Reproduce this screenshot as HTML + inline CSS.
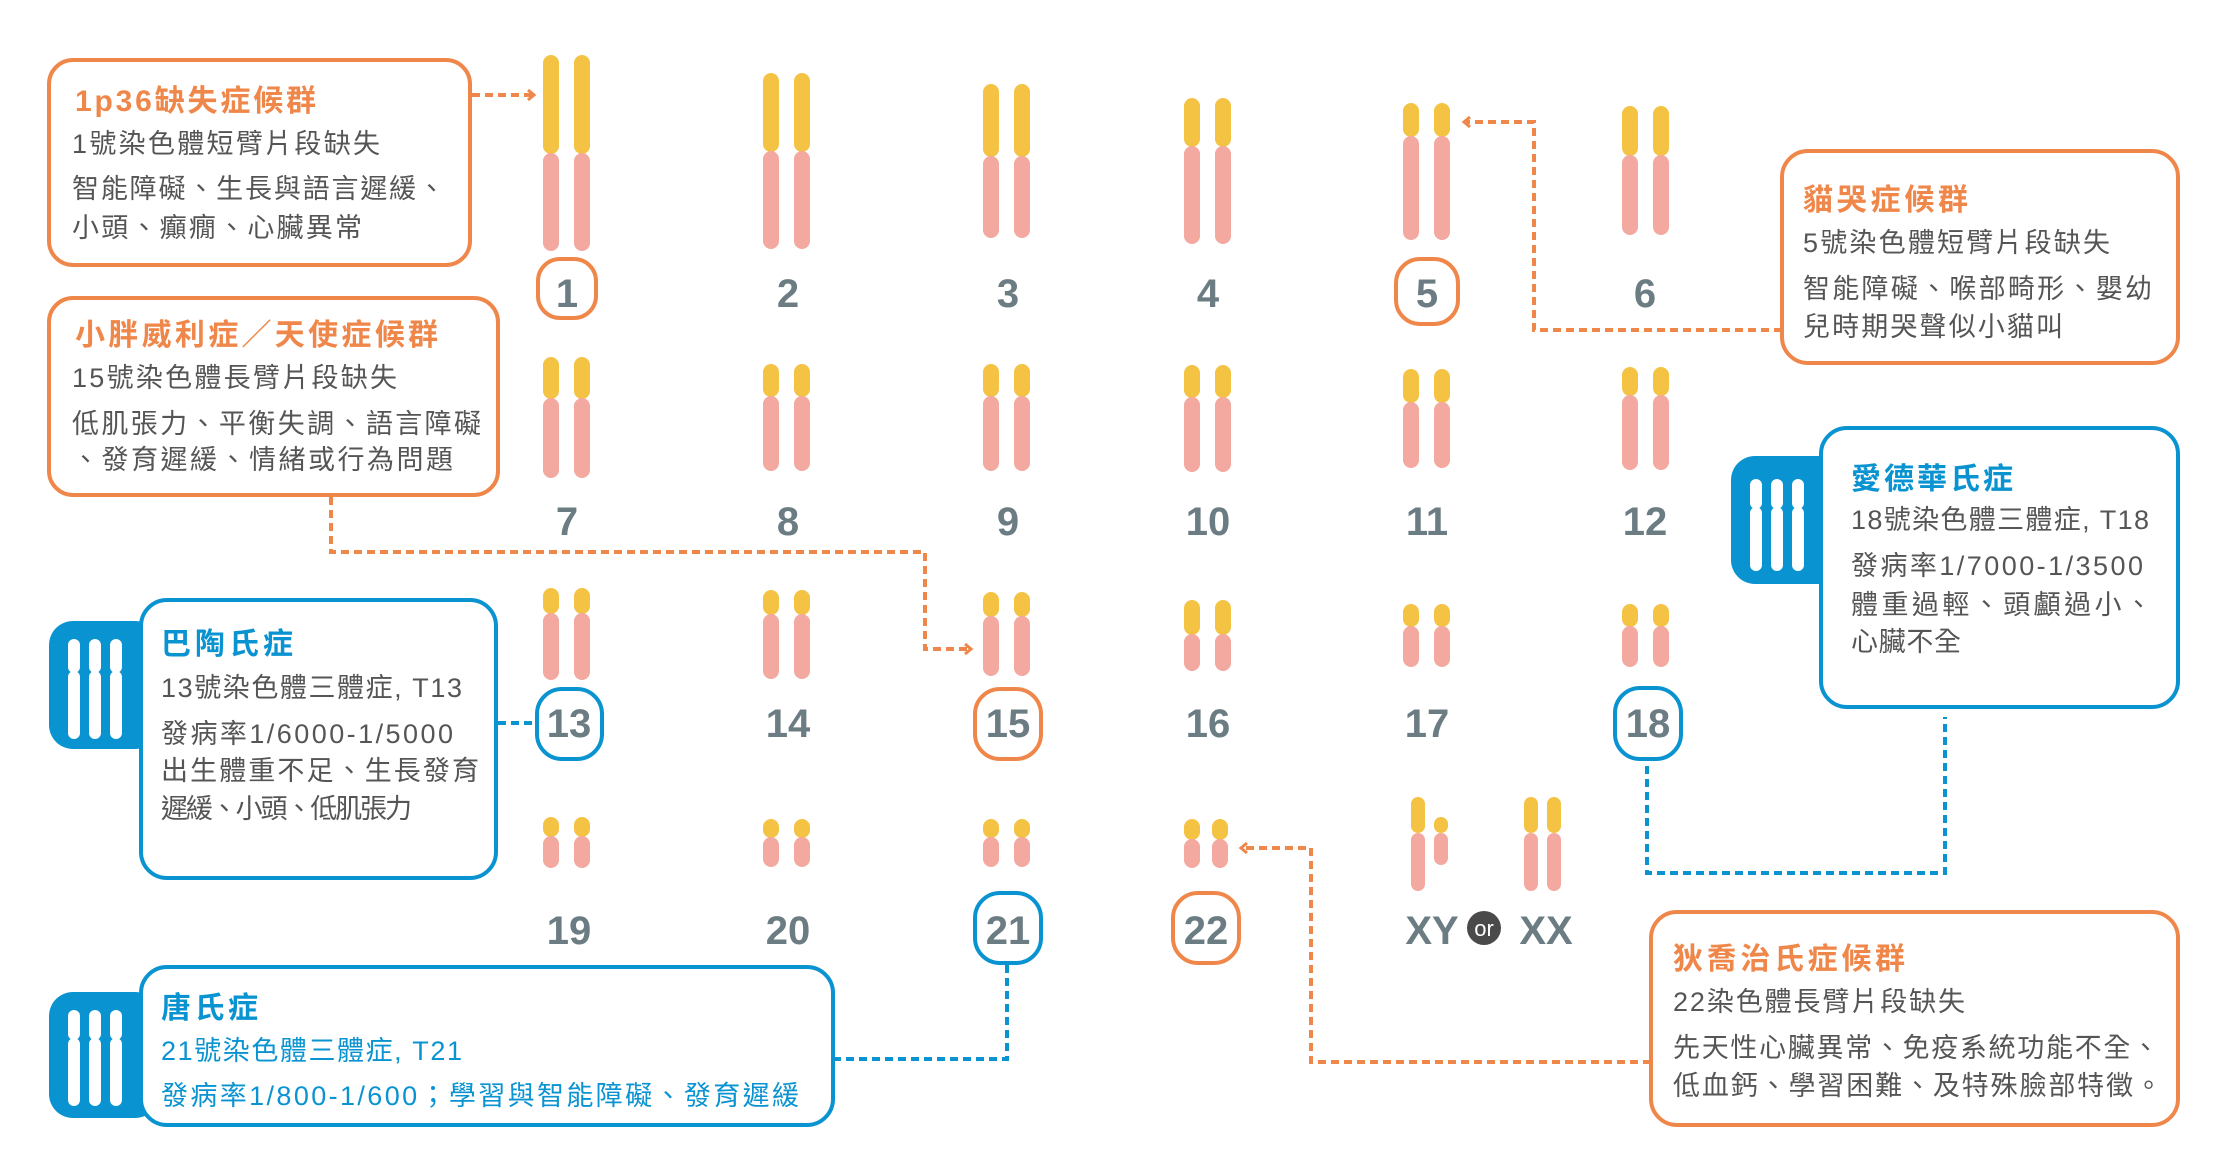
<!DOCTYPE html>
<html><head><meta charset="utf-8">
<style>
html,body{margin:0;padding:0;background:#fff;}
svg{display:block;}
text{font-family:"Liberation Sans","Noto Sans CJK TC","Noto Sans CJK SC",sans-serif;}
.t{font-size:30px;font-weight:bold;}
.b{font-size:27px;fill:#555;}
.n{font-size:40px;fill:#6b7c83;text-anchor:middle;font-weight:bold;}
</style></head><body>
<svg width="2238" height="1168" viewBox="0 0 2238 1168" xmlns="http://www.w3.org/2000/svg">
<defs>
<marker id="ao" markerWidth="10" markerHeight="12" refX="6" refY="6" orient="auto" markerUnits="userSpaceOnUse">
<path d="M1,1 L7,6 L1,11" fill="none" stroke="#f0874a" stroke-width="3"/>
</marker>
</defs>
<g stroke-linecap="round" stroke-width="16" fill="none">
<g><line x1="551" y1="63" x2="551" y2="146" stroke="#f5c343"/><line x1="582" y1="63" x2="582" y2="146" stroke="#f5c343"/><line x1="551" y1="161" x2="551" y2="243" stroke="#f3a9a0"/><line x1="582" y1="161" x2="582" y2="243" stroke="#f3a9a0"/></g>
<g><line x1="771" y1="81" x2="771" y2="144" stroke="#f5c343"/><line x1="802" y1="81" x2="802" y2="144" stroke="#f5c343"/><line x1="771" y1="159" x2="771" y2="241" stroke="#f3a9a0"/><line x1="802" y1="159" x2="802" y2="241" stroke="#f3a9a0"/></g>
<g><line x1="991" y1="92" x2="991" y2="149" stroke="#f5c343"/><line x1="1022" y1="92" x2="1022" y2="149" stroke="#f5c343"/><line x1="991" y1="164" x2="991" y2="230" stroke="#f3a9a0"/><line x1="1022" y1="164" x2="1022" y2="230" stroke="#f3a9a0"/></g>
<g><line x1="1192" y1="106" x2="1192" y2="139" stroke="#f5c343"/><line x1="1223" y1="106" x2="1223" y2="139" stroke="#f5c343"/><line x1="1192" y1="154" x2="1192" y2="236" stroke="#f3a9a0"/><line x1="1223" y1="154" x2="1223" y2="236" stroke="#f3a9a0"/></g>
<g><line x1="1411" y1="111" x2="1411" y2="129" stroke="#f5c343"/><line x1="1442" y1="111" x2="1442" y2="129" stroke="#f5c343"/><line x1="1411" y1="144" x2="1411" y2="232" stroke="#f3a9a0"/><line x1="1442" y1="144" x2="1442" y2="232" stroke="#f3a9a0"/></g>
<g><line x1="1630" y1="114" x2="1630" y2="148" stroke="#f5c343"/><line x1="1661" y1="114" x2="1661" y2="148" stroke="#f5c343"/><line x1="1630" y1="163" x2="1630" y2="227" stroke="#f3a9a0"/><line x1="1661" y1="163" x2="1661" y2="227" stroke="#f3a9a0"/></g>
<g><line x1="551" y1="365" x2="551" y2="391" stroke="#f5c343"/><line x1="582" y1="365" x2="582" y2="391" stroke="#f5c343"/><line x1="551" y1="406" x2="551" y2="470" stroke="#f3a9a0"/><line x1="582" y1="406" x2="582" y2="470" stroke="#f3a9a0"/></g>
<g><line x1="771" y1="372" x2="771" y2="389" stroke="#f5c343"/><line x1="802" y1="372" x2="802" y2="389" stroke="#f5c343"/><line x1="771" y1="404" x2="771" y2="463" stroke="#f3a9a0"/><line x1="802" y1="404" x2="802" y2="463" stroke="#f3a9a0"/></g>
<g><line x1="991" y1="372" x2="991" y2="389" stroke="#f5c343"/><line x1="1022" y1="372" x2="1022" y2="389" stroke="#f5c343"/><line x1="991" y1="404" x2="991" y2="463" stroke="#f3a9a0"/><line x1="1022" y1="404" x2="1022" y2="463" stroke="#f3a9a0"/></g>
<g><line x1="1192" y1="373" x2="1192" y2="390" stroke="#f5c343"/><line x1="1223" y1="373" x2="1223" y2="390" stroke="#f5c343"/><line x1="1192" y1="405" x2="1192" y2="464" stroke="#f3a9a0"/><line x1="1223" y1="405" x2="1223" y2="464" stroke="#f3a9a0"/></g>
<g><line x1="1411" y1="377" x2="1411" y2="395" stroke="#f5c343"/><line x1="1442" y1="377" x2="1442" y2="395" stroke="#f5c343"/><line x1="1411" y1="410" x2="1411" y2="460" stroke="#f3a9a0"/><line x1="1442" y1="410" x2="1442" y2="460" stroke="#f3a9a0"/></g>
<g><line x1="1630" y1="375" x2="1630" y2="388" stroke="#f5c343"/><line x1="1661" y1="375" x2="1661" y2="388" stroke="#f5c343"/><line x1="1630" y1="403" x2="1630" y2="462" stroke="#f3a9a0"/><line x1="1661" y1="403" x2="1661" y2="462" stroke="#f3a9a0"/></g>
<g><line x1="551" y1="596" x2="551" y2="606" stroke="#f5c343"/><line x1="582" y1="596" x2="582" y2="606" stroke="#f5c343"/><line x1="551" y1="621" x2="551" y2="672" stroke="#f3a9a0"/><line x1="582" y1="621" x2="582" y2="672" stroke="#f3a9a0"/></g>
<g><line x1="771" y1="598" x2="771" y2="607" stroke="#f5c343"/><line x1="802" y1="598" x2="802" y2="607" stroke="#f5c343"/><line x1="771" y1="622" x2="771" y2="671" stroke="#f3a9a0"/><line x1="802" y1="622" x2="802" y2="671" stroke="#f3a9a0"/></g>
<g><line x1="991" y1="600" x2="991" y2="609" stroke="#f5c343"/><line x1="1022" y1="600" x2="1022" y2="609" stroke="#f5c343"/><line x1="991" y1="624" x2="991" y2="668" stroke="#f3a9a0"/><line x1="1022" y1="624" x2="1022" y2="668" stroke="#f3a9a0"/></g>
<g><line x1="1192" y1="608" x2="1192" y2="627" stroke="#f5c343"/><line x1="1223" y1="608" x2="1223" y2="627" stroke="#f5c343"/><line x1="1192" y1="642" x2="1192" y2="663" stroke="#f3a9a0"/><line x1="1223" y1="642" x2="1223" y2="663" stroke="#f3a9a0"/></g>
<g><line x1="1411" y1="612" x2="1411" y2="619" stroke="#f5c343"/><line x1="1442" y1="612" x2="1442" y2="619" stroke="#f5c343"/><line x1="1411" y1="634" x2="1411" y2="659" stroke="#f3a9a0"/><line x1="1442" y1="634" x2="1442" y2="659" stroke="#f3a9a0"/></g>
<g><line x1="1630" y1="612" x2="1630" y2="619" stroke="#f5c343"/><line x1="1661" y1="612" x2="1661" y2="619" stroke="#f5c343"/><line x1="1630" y1="634" x2="1630" y2="659" stroke="#f3a9a0"/><line x1="1661" y1="634" x2="1661" y2="659" stroke="#f3a9a0"/></g>
<g><line x1="551" y1="825" x2="551" y2="829" stroke="#f5c343"/><line x1="582" y1="825" x2="582" y2="829" stroke="#f5c343"/><line x1="551" y1="844" x2="551" y2="860" stroke="#f3a9a0"/><line x1="582" y1="844" x2="582" y2="860" stroke="#f3a9a0"/></g>
<g><line x1="771" y1="827" x2="771" y2="830" stroke="#f5c343"/><line x1="802" y1="827" x2="802" y2="830" stroke="#f5c343"/><line x1="771" y1="845" x2="771" y2="859" stroke="#f3a9a0"/><line x1="802" y1="845" x2="802" y2="859" stroke="#f3a9a0"/></g>
<g><line x1="991" y1="827" x2="991" y2="830" stroke="#f5c343"/><line x1="1022" y1="827" x2="1022" y2="830" stroke="#f5c343"/><line x1="991" y1="845" x2="991" y2="859" stroke="#f3a9a0"/><line x1="1022" y1="845" x2="1022" y2="859" stroke="#f3a9a0"/></g>
<g><line x1="1192" y1="827" x2="1192" y2="832" stroke="#f5c343"/><line x1="1220" y1="827" x2="1220" y2="832" stroke="#f5c343"/><line x1="1192" y1="847" x2="1192" y2="860" stroke="#f3a9a0"/><line x1="1220" y1="847" x2="1220" y2="860" stroke="#f3a9a0"/></g>
<g stroke-width="14"><line x1="1418" y1="804" x2="1418" y2="826" stroke="#f5c343"/><line x1="1418" y1="840" x2="1418" y2="884" stroke="#f3a9a0"/>
<line x1="1441" y1="824" x2="1441" y2="826" stroke="#f5c343"/><line x1="1441" y1="840" x2="1441" y2="858" stroke="#f3a9a0"/>
<line x1="1531" y1="804" x2="1531" y2="826" stroke="#f5c343"/><line x1="1531" y1="840" x2="1531" y2="884" stroke="#f3a9a0"/>
<line x1="1554" y1="804" x2="1554" y2="826" stroke="#f5c343"/><line x1="1554" y1="840" x2="1554" y2="884" stroke="#f3a9a0"/></g>
</g>

<g fill="none" stroke-width="4">
<rect x="538" y="259" width="58" height="59" rx="22" stroke="#f0874a"/>
<rect x="1396" y="259" width="62" height="65" rx="24" stroke="#f0874a"/>
<rect x="537" y="689" width="65" height="70" rx="25" stroke="#0a93d1"/>
<rect x="975" y="689" width="66" height="70" rx="25" stroke="#f0874a"/>
<rect x="1615" y="688" width="66" height="71" rx="25" stroke="#0a93d1"/>
<rect x="975" y="893" width="66" height="70" rx="25" stroke="#0a93d1"/>
<rect x="1173" y="893" width="66" height="70" rx="25" stroke="#f0874a"/>
</g>
<g class="n">
<text x="567" y="307">1</text><text x="788" y="307">2</text><text x="1008" y="307">3</text><text x="1208" y="307">4</text><text x="1427" y="307">5</text><text x="1645" y="307">6</text>
<text x="567" y="535">7</text><text x="788" y="535">8</text><text x="1008" y="535">9</text><text x="1208" y="535">10</text><text x="1427" y="535">11</text><text x="1645" y="535">12</text>
<text x="569" y="737">13</text><text x="788" y="737">14</text><text x="1008" y="737">15</text><text x="1208" y="737">16</text><text x="1427" y="737">17</text><text x="1648" y="737">18</text>
<text x="569" y="944">19</text><text x="788" y="944">20</text><text x="1008" y="944">21</text><text x="1206" y="944">22</text>
<text x="1432" y="944">XY</text><text x="1546" y="944">XX</text>
</g>
<circle cx="1484" cy="928" r="17" fill="#4a4a4a"/>
<text x="1484" y="936" font-size="22" fill="#fff" text-anchor="middle">or</text>

<g fill="none" stroke-width="4" stroke-dasharray="8 5">
<polyline points="472,95 533,95" stroke="#f0874a" marker-end="url(#ao)"/>
<polyline points="1782,330 1534,330 1534,122 1465,122" stroke="#f0874a" marker-end="url(#ao)"/>
<polyline points="331,497 331,552 925,552 925,649 970,649" stroke="#f0874a" marker-end="url(#ao)"/>
<polyline points="1651,1062 1311,1062 1311,848 1242,848" stroke="#f0874a" marker-end="url(#ao)"/>
<polyline points="498,723 536,723" stroke="#0a93d1"/>
<polyline points="1007,965 1007,1059 835,1059" stroke="#0a93d1"/>
<polyline points="1647,766 1647,873 1945,873 1945,717" stroke="#0a93d1"/>
</g>

<g fill="#fff" stroke-width="4">
<rect x="49" y="60" width="421" height="205" rx="24" stroke="#f0874a"/>
<rect x="49" y="298" width="449" height="197" rx="24" stroke="#f0874a"/>
<rect x="1782" y="151" width="396" height="212" rx="26" stroke="#f0874a"/>
<rect x="1651" y="912" width="527" height="213" rx="26" stroke="#f0874a"/>
</g>
<g fill="#0a93d1">
<rect x="49" y="621" width="110" height="128" rx="24"/>
<rect x="49" y="992" width="110" height="126" rx="24"/>
<rect x="1731" y="456" width="110" height="128" rx="24"/>
</g>
<g fill="#fff" stroke-width="4">
<rect x="141" y="600" width="355" height="278" rx="26" stroke="#0a93d1"/>
<rect x="141" y="967" width="692" height="158" rx="26" stroke="#0a93d1"/>
<rect x="1821" y="428" width="357" height="279" rx="26" stroke="#0a93d1"/>
</g>
<g stroke="#fff" stroke-width="12" stroke-linecap="round">
<line x1="74" y1="645" x2="74" y2="667"/><line x1="74" y1="677" x2="74" y2="733"/>
<line x1="95" y1="645" x2="95" y2="667"/><line x1="95" y1="677" x2="95" y2="733"/>
<line x1="116" y1="645" x2="116" y2="667"/><line x1="116" y1="677" x2="116" y2="733"/>
<line x1="74" y1="1016" x2="74" y2="1034"/><line x1="74" y1="1044" x2="74" y2="1100"/>
<line x1="95" y1="1016" x2="95" y2="1034"/><line x1="95" y1="1044" x2="95" y2="1100"/>
<line x1="116" y1="1016" x2="116" y2="1034"/><line x1="116" y1="1044" x2="116" y2="1100"/>
<line x1="1756" y1="485" x2="1756" y2="503"/><line x1="1756" y1="513" x2="1756" y2="565"/>
<line x1="1777" y1="485" x2="1777" y2="503"/><line x1="1777" y1="513" x2="1777" y2="565"/>
<line x1="1798" y1="485" x2="1798" y2="503"/><line x1="1798" y1="513" x2="1798" y2="565"/>
</g>

<g>
<text class="t" fill="#f0874a" x="75" y="111" textLength="241">1p36缺失症候群</text>
<text class="b" x="72" y="153" textLength="308">1號染色體短臂片段缺失</text>
<text class="b" x="72" y="198" textLength="373">智能障礙、生長與語言遲緩、</text>
<text class="b" x="72" y="237" textLength="290">小頭、癲癇、心臟異常</text>

<text class="t" fill="#f0874a" x="75" y="345" textLength="363">小胖威利症／天使症候群</text>
<text class="b" x="72" y="387" textLength="325">15號染色體長臂片段缺失</text>
<text class="b" x="72" y="433" textLength="409">低肌張力、平衡失調、語言障礙</text>
<text class="b" x="72" y="469" textLength="381">、發育遲緩、情緒或行為問題</text>

<text class="t" fill="#0a93d1" x="161" y="654" textLength="132">巴陶氏症</text>
<text class="b" x="161" y="697" textLength="301">13號染色體三體症, T13</text>
<text class="b" x="161" y="743" textLength="292">發病率1/6000-1/5000</text>
<text class="b" x="161" y="780" textLength="318">出生體重不足、生長發育</text>
<text class="b" x="161" y="818" textLength="251">遲緩、小頭、低肌張力</text>

<text class="t" fill="#0a93d1" x="161" y="1018" textLength="97">唐氏症</text>
<text class="b" style="fill:#0a93d1" x="161" y="1060" textLength="301">21號染色體三體症, T21</text>
<text class="b" style="fill:#0a93d1" x="161" y="1105" textLength="638">發病率1/800-1/600；學習與智能障礙、發育遲緩</text>

<text class="t" fill="#f0874a" x="1803" y="210" textLength="165">貓哭症候群</text>
<text class="b" x="1803" y="252" textLength="307">5號染色體短臂片段缺失</text>
<text class="b" x="1803" y="298" textLength="349">智能障礙、喉部畸形、嬰幼</text>
<text class="b" x="1803" y="336" textLength="260">兒時期哭聲似小貓叫</text>

<text class="t" fill="#0a93d1" x="1851" y="489" textLength="162">愛德華氏症</text>
<text class="b" x="1851" y="529" textLength="298">18號染色體三體症, T18</text>
<text class="b" x="1851" y="575" textLength="292">發病率1/7000-1/3500</text>
<text class="b" x="1851" y="614" textLength="301">體重過輕、頭顱過小、</text>
<text class="b" x="1851" y="651" textLength="110">心臟不全</text>

<text class="t" fill="#f0874a" x="1673" y="969" textLength="232">狄喬治氏症候群</text>
<text class="b" x="1673" y="1011" textLength="292">22染色體長臂片段缺失</text>
<text class="b" x="1673" y="1057" textLength="486">先天性心臟異常、免疫系統功能不全、</text>
<text class="b" x="1673" y="1095" textLength="489">低血鈣、學習困難、及特殊臉部特徵。</text>
</g>
</svg>
</body></html>
